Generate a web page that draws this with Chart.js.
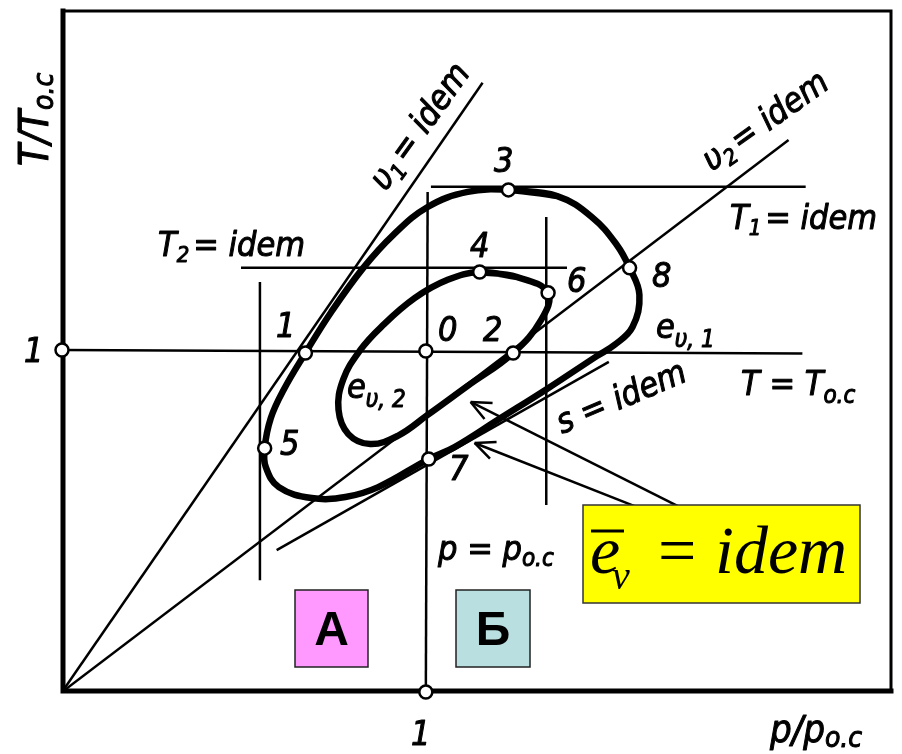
<!DOCTYPE html>
<html>
<head>
<meta charset="utf-8">
<script src="https://cdn.jsdelivr.net/npm/chart.js@4.4.1/dist/chart.umd.min.js"></script>
<style>
  html, body { margin: 0; padding: 0; background: #fff; }
</style>
</head>
<body>
<canvas id="diagram" width="902" height="754"></canvas>
<script>
// x = p/p_oc, y = T/T_oc
const loopOuter = [
  [1.227, 1.468], [1.361, 1.450], [1.456, 1.389], [1.525, 1.307], [1.560, 1.240],
  [1.587, 1.161], [1.568, 1.067], [1.519, 1.015], [1.470, 0.982], [1.333, 0.886],
  [1.197, 0.795], [1.079, 0.716], [1.008, 0.681], [0.869, 0.599], [0.779, 0.570],
  [0.686, 0.567], [0.596, 0.599], [0.560, 0.658], [0.557, 0.713], [0.574, 0.801],
  [0.609, 0.883], [0.669, 0.991], [0.740, 1.111], [0.828, 1.240], [0.910, 1.336],
  [1.005, 1.418], [1.115, 1.462], [1.227, 1.468], [1.361, 1.450]
];
const loopInner = [
  [1.148, 1.228], [1.251, 1.213], [1.336, 1.167], [1.317, 1.088], [1.240, 0.991],
  [1.115, 0.895], [1.005, 0.810], [0.923, 0.749], [0.847, 0.725], [0.787, 0.754],
  [0.760, 0.825], [0.773, 0.914], [0.820, 1.000], [0.877, 1.067], [0.970, 1.152],
  [1.060, 1.205], [1.148, 1.228], [1.251, 1.213]
];
// numbered states, plus the unit marks on both axes
const stateMarks = [
  [0, 1.0], [1.0, 0],
  [1.000, 0.997], [0.669, 0.991], [1.240, 0.991], [1.227, 1.468], [1.148, 1.228],
  [0.557, 0.713], [1.336, 1.167], [1.008, 0.681], [1.560, 1.240]
];
const isoAmbientT = [[0, 1.0], [2.035, 0.99]];
const isoAmbientP = [[1.0, 0], [1.005, 1.462]];
const isoT1 = [[1.014, 1.477], [2.044, 1.477]];
const isoT2 = [[0.492, 1.240], [1.388, 1.240]];
const isoP5 = [[0.544, 0.327], [0.544, 1.199]];
const isoP6 = [[1.331, 0.547], [1.331, 1.389]];
const isochore1 = [[0, 0], [1.156, 1.781]];
const isochore2 = [[0, 0], [1.997, 1.614]];
const isentrope = [[0.590, 0.415], [1.503, 0.965]];
const pointerUpper = [[1.697, 0.541], [1.123, 0.848]];
const pointerLower = [[1.579, 0.541], [1.134, 0.728]];

const xy = arr => arr.map(([x, y]) => ({ x, y }));
const thin = (data, w) => ({
  data: xy(data), showLine: true, borderColor: '#000', borderWidth: w || 2.5,
  pointRadius: 0, tension: 0, fill: false
});
const loop = data => ({
  data: xy(data), showLine: true, borderColor: '#000', borderWidth: 6.5,
  pointRadius: 0, tension: 0.4, fill: false
});

const HAND = "'Liberation Sans Narrow', 'DejaVu Sans Condensed', 'Arial Narrow', sans-serif";
const hand = s => `italic ${s}px ${HAND}`;

// draws a run of text pieces (main text, subscripts) along one baseline,
// with a thin outline so the strokes come out as heavy as drafting letters
function rich(ctx, parts, x, y, angle) {
  ctx.save();
  ctx.translate(x, y);
  ctx.rotate(angle || 0);
  ctx.lineWidth = 1;
  ctx.lineJoin = 'round';
  let cx = 0;
  parts.forEach(p => {
    ctx.font = p.font;
    ctx.fillText(p.t, cx, p.dy || 0);
    ctx.strokeText(p.t, cx, p.dy || 0);
    cx += ctx.measureText(p.t).width + (p.gap || 0);
  });
  ctx.restore();
}

const frame = {
  id: 'frame',
  beforeDatasetsDraw(chart) {
    const { ctx, chartArea: a } = chart;
    ctx.save();
    ctx.strokeStyle = '#000';
    ctx.lineCap = 'square';
    ctx.lineWidth = 3;
    ctx.beginPath();
    ctx.moveTo(a.left + 1, a.top);
    ctx.lineTo(a.right - 2, a.top);
    ctx.lineTo(a.right - 2, a.bottom - 1);
    ctx.stroke();
    ctx.lineWidth = 5;
    ctx.beginPath();
    ctx.moveTo(a.left + 1, a.top);
    ctx.lineTo(a.left + 1, a.bottom - 1);
    ctx.lineTo(a.right - 2, a.bottom - 1);
    ctx.stroke();
    ctx.restore();
  }
};

const notes = {
  id: 'notes',
  afterDatasetsDraw(chart) {
    const { ctx, scales: { x, y } } = chart;
    ctx.save();
    ctx.fillStyle = '#000';
    ctx.strokeStyle = '#000';

    // open arrow heads on the two pointers
    [pointerUpper, pointerLower].forEach(([tail, tip]) => {
      const x0 = x.getPixelForValue(tail[0]), y0 = y.getPixelForValue(tail[1]);
      const x1 = x.getPixelForValue(tip[0]), y1 = y.getPixelForValue(tip[1]);
      const ang = Math.atan2(y0 - y1, x0 - x1);
      ctx.lineWidth = 2.5;
      ctx.beginPath();
      [-0.42, 0.42].forEach(d => {
        ctx.moveTo(x1, y1);
        ctx.lineTo(x1 + 22 * Math.cos(ang + d), y1 + 22 * Math.sin(ang + d));
      });
      ctx.stroke();
    });

    // axis titles and unit marks
    rich(ctx, [{ t: 'T/T', font: hand(40) }, { t: 'о.с', font: hand(28), dy: 5 }], 48, 166, -Math.PI / 2);
    rich(ctx, [{ t: '1', font: hand(34) }], 24, 362);
    rich(ctx, [{ t: '1', font: hand(34) }], 411, 745);
    rich(ctx, [{ t: 'p/p', font: hand(38) }, { t: 'о.с', font: hand(28), dy: 5 }], 770, 742);

    // state numbers
    [['3', 494, 172], ['4', 470, 257], ['6', 567, 292], ['8', 652, 287],
     ['1', 276, 337], ['0', 438, 341], ['2', 483, 341], ['5', 280, 455], ['7', 449, 480]]
      .forEach(([t, px, py]) => rich(ctx, [{ t, font: hand(34) }], px, py));

    // isolines
    rich(ctx, [{ t: 'T', font: hand(34) }, { t: '2', font: hand(22), dy: 6, gap: 4 },
               { t: '= idem', font: hand(34) }], 158, 256);
    rich(ctx, [{ t: 'T', font: hand(34) }, { t: '1', font: hand(22), dy: 6, gap: 4 },
               { t: '= idem', font: hand(34) }], 730, 229);
    rich(ctx, [{ t: 'T = T', font: hand(34) }, { t: 'о.с', font: hand(24), dy: 8 }], 741, 395);
    rich(ctx, [{ t: 'p = p', font: hand(34) }, { t: 'о.с', font: hand(24), dy: 6 }], 438, 560);
    rich(ctx, [{ t: 'υ', font: hand(34) }, { t: '1', font: hand(22), dy: 6, gap: 4 },
               { t: '= idem', font: hand(34) }], 386, 192, -0.95);
    rich(ctx, [{ t: 'υ', font: hand(34) }, { t: '2', font: hand(22), dy: 6, gap: 4 },
               { t: '= idem', font: hand(34) }], 712, 172, -0.62);
    rich(ctx, [{ t: 's = idem', font: hand(34) }], 562, 434, -0.40);
    rich(ctx, [{ t: 'e', font: hand(34) }, { t: 'υ, 1', font: hand(24), dy: 9 }], 656, 338);
    rich(ctx, [{ t: 'e', font: hand(34) }, { t: 'υ, 2', font: hand(24), dy: 9 }], 347, 398);

    // coloured tags
    const tag = (bx, by, w, h, fill, letter) => {
      ctx.fillStyle = fill;
      ctx.fillRect(bx, by, w, h);
      ctx.lineWidth = 1.5;
      ctx.strokeStyle = '#222';
      ctx.strokeRect(bx, by, w, h);
      ctx.fillStyle = '#000';
      ctx.font = "bold 48px 'Liberation Sans', Arial, sans-serif";
      ctx.textAlign = 'center';
      ctx.textBaseline = 'middle';
      ctx.fillText(letter, bx + w / 2, by + h / 2 + 3);
      ctx.textAlign = 'left';
      ctx.textBaseline = 'alphabetic';
    };
    tag(295, 590, 73, 77, '#ff99ff', 'А');
    tag(456, 590, 74, 77, '#b9dfe0', 'Б');

    // mean exergy box
    ctx.fillStyle = '#ffff00';
    ctx.fillRect(583, 505, 277, 98);
    ctx.lineWidth = 1.5;
    ctx.strokeStyle = '#333';
    ctx.strokeRect(583, 505, 277, 98);
    ctx.fillStyle = '#000';
    const SERIF = "'Liberation Serif', 'Times New Roman', serif";
    ctx.font = `italic 68px ${SERIF}`;
    ctx.fillText('e', 590, 573);
    ctx.lineWidth = 3;
    ctx.strokeStyle = '#000';
    ctx.beginPath();
    ctx.moveTo(591, 531);
    ctx.lineTo(624, 531);
    ctx.stroke();
    ctx.font = `italic 40px ${SERIF}`;
    ctx.fillText('v', 612, 589);
    ctx.font = `68px ${SERIF}`;
    ctx.fillText('=', 658, 573);
    ctx.font = `italic 68px ${SERIF}`;
    ctx.fillText('idem', 715, 573);

    ctx.restore();
  }
};

new Chart(document.getElementById('diagram'), {
  type: 'scatter',
  data: {
    datasets: [
      {
        data: xy(stateMarks), pointRadius: 6.5, pointBorderWidth: 2.5,
        pointBackgroundColor: '#fff', pointBorderColor: '#000', showLine: false,
        order: -1, clip: false
      },
      loop(loopOuter),
      loop(loopInner),
      thin(isoAmbientT),
      thin(isoAmbientP),
      thin(isoT1),
      thin(isoT2),
      thin(isoP5),
      thin(isoP6),
      thin(isochore1),
      thin(isochore2),
      thin(isentrope),
      thin(pointerUpper, 2.5),
      thin(pointerLower, 2.5)
    ]
  },
  options: {
    responsive: false,
    animation: false,
    layout: { padding: { left: 62, right: 4, top: 11, bottom: 62 } },
    plugins: { legend: { display: false }, tooltip: { enabled: false } },
    scales: {
      x: { type: 'linear', min: 0, max: 2.284, display: false },
      y: { type: 'linear', min: 0, max: 1.991, display: false }
    }
  },
  plugins: [frame, notes]
});
</script>
</body>
</html>
